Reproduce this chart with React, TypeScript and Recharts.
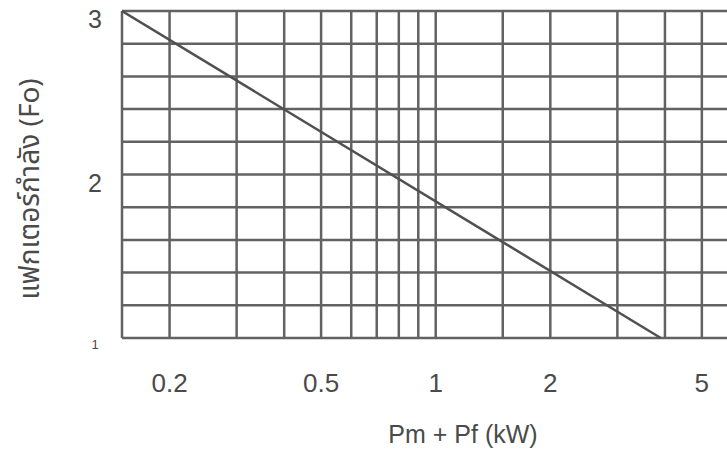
import { LineChart, Line, XAxis, YAxis, ReferenceLine, Label } from 'recharts'

// values (log x axis, linear y axis)
const xGridValues = [0.15, 0.2, 0.3, 0.4, 0.5, 0.6, 0.7, 0.8, 0.9, 1, 1.5, 2, 3, 4, 5]
const yGridValues = [1, 1.2, 1.4, 1.6, 1.8, 2, 2.2, 2.4, 2.6, 2.8, 3]
const xTickValues = [0.2, 0.5, 1, 2, 5]
const yTickValues = [1, 2, 3]
const powerKW = [0.15, 3.9]
const factorFo = [3, 1]

const lineData = powerKW.map((p, i) => ({ p, fo: factorFo[i] }))

const ink = '#4a4a4a'
const gridInk = '#626262'
const font = '"Liberation Sans", Arial, sans-serif'

function XTick({ x, y, payload }: any) {
  return (
    <text x={x} y={y + 45} textAnchor="middle" dominantBaseline="central" fill={ink} fontSize={26} fontFamily={font}>
      {payload.value}
    </text>
  )
}

function YTick({ x, y, payload }: any) {
  const small = payload.value === 1
  return (
    <text
      x={x - 27}
      y={y + (small ? 6 : 8)}
      textAnchor="middle"
      dominantBaseline="central"
      fill={ink}
      fontSize={small ? 13 : 25}
      fontFamily={font}
    >
      {payload.value}
    </text>
  )
}

export default function App() {
  return (
    <div style={{ position: 'absolute', left: 0, top: 0, width: 727, height: 450, overflow: 'hidden', background: '#fff' }}>
      <LineChart width={760} height={450} data={lineData} margin={{ top: 11, right: 28, left: 0, bottom: 0 }}>
        <XAxis
          dataKey="p"
          type="number"
          scale="log"
          domain={[0.15, 6]}
          ticks={xTickValues}
          allowDataOverflow
          axisLine={false}
          tickLine={false}
          tickSize={0}
          tickMargin={0}
          height={112}
          tick={<XTick />}
        >
          <Label
            content={() => (
              <text x={463} y={434} textAnchor="middle" dominantBaseline="central" fill={ink} fontSize={25} fontFamily={font}>
                Pm + Pf (kW)
              </text>
            )}
          />
        </XAxis>
        <YAxis
          type="number"
          domain={[1, 3]}
          ticks={yTickValues}
          axisLine={false}
          tickLine={false}
          tickSize={0}
          tickMargin={0}
          width={122}
          tick={<YTick />}
        >
          <Label
            content={() => (
              <text
                x={30}
                y={189}
                transform="rotate(-90 30 189)"
                textAnchor="middle"
                dominantBaseline="central"
                fill={ink}
                fontSize={28}
                fontFamily={'"Noto Sans Thai", "Noto Sans", "DejaVu Sans", sans-serif'}
              >
                แฟกเตอร์กำลัง (Fo)
              </text>
            )}
          />
        </YAxis>
        {xGridValues.map((v) => (
          <ReferenceLine key={`x-${v}`} x={v} stroke={gridInk} strokeWidth={2.5} />
        ))}
        {yGridValues.map((v) => (
          <ReferenceLine key={`y-${v}`} y={v} stroke={gridInk} strokeWidth={2.5} />
        ))}
        <Line
          dataKey="fo"
          stroke="#505050"
          strokeWidth={2.5}
          dot={false}
          isAnimationActive={false}
        />
      </LineChart>
    </div>
  )
}
